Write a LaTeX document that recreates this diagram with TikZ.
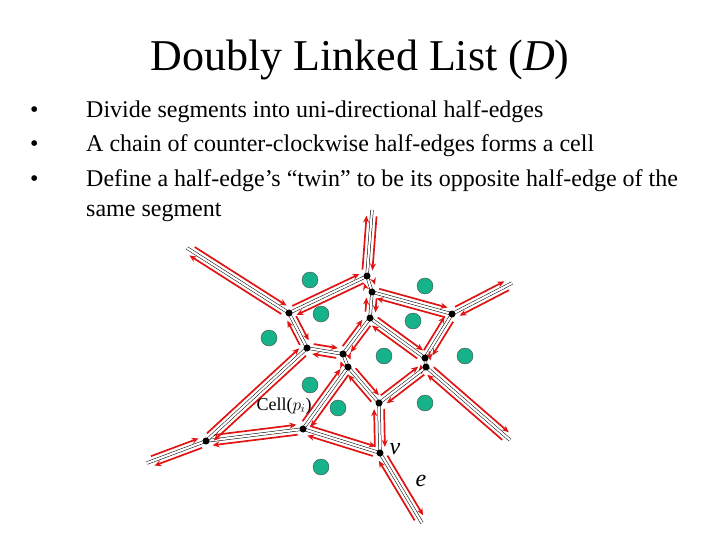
\documentclass[tikz,border=0pt]{standalone}
\usepackage{fontspec}
\setmainfont{Liberation Serif}
\usetikzlibrary{calc,arrows.meta}
\definecolor{sitec}{RGB}{22,178,138}
\definecolor{hred}{RGB}{225,20,20}
\tikzset{
 seg/.style={draw=black,double=white,double distance=2.2pt,line width=0.5pt},
 hedge/.style={draw=hred,line width=1.7pt,-{Stealth[length=7pt,width=6pt]},shorten <=6pt,shorten >=6pt},
 vtx/.style={circle,fill=black,inner sep=0pt,minimum size=7pt},
 site/.style={circle,fill=sitec,draw=black!70,line width=0.4pt,inner sep=0pt,minimum size=16pt},
 bul/.style={anchor=base west,font=\fontsize{24}{28}\selectfont,inner sep=0pt}
}
\newcommand\hepair[2]{%
 \draw[hedge] let \p1=($(#2)-(#1)$), \n1={atan2(\y1,\x1)} in ($(#1)+(\n1+90:5pt)$) -- ($(#2)+(\n1+90:5pt)$);
 \draw[hedge] let \p1=($(#1)-(#2)$), \n1={atan2(\y1,\x1)} in ($(#2)+(\n1+90:5pt)$) -- ($(#1)+(\n1+90:5pt)$);
 \draw[seg] (#1) -- (#2);}
\begin{document}
\begin{tikzpicture}[x=1pt,y=-1pt]
\useasboundingbox (0,0) rectangle (720,540);
\node[font=\fontsize{44}{48}\selectfont] (title) at (360,60) {Doubly Linked List (\textit{D})};
\foreach \y/\t [count=\i] in {118/Divide segments into uni-directional half-edges,152/A chain of counter-clockwise half-edges forms a cell,187/Define a half-edge’s “twin” to be its opposite half-edge of the}{
 \node[bul] (b\i) at (86,\y) {\t};
 \node[bul] (d\i) at (30,\y) {•};}
\node[bul] (b4) at (86,217) {same segment};
% vertices
\coordinate (A) at (367,276); \coordinate (B) at (372,292);
\coordinate (C) at (289,313); \coordinate (D) at (370,318);
\coordinate (E) at (452,314); \coordinate (F) at (307,348);
\coordinate (G) at (343,354); \coordinate (H) at (348,367);
\coordinate (I) at (425,358); \coordinate (J) at (426,367);
\coordinate (K) at (379,403); \coordinate (L) at (303,429);
\coordinate (M) at (206,441); \coordinate (V) at (380,453);
\coordinate (tA) at (372,210); \coordinate (tC) at (187,248);
\coordinate (tE) at (512,283); \coordinate (tJ) at (510,440);
\coordinate (tM) at (147,463); \coordinate (tV) at (422,523);
\foreach \a/\b in {A/tA,A/B,A/C,C/tC,C/F,F/G,G/D,D/B,B/E,E/tE,E/I,I/D,I/J,J/K,K/H,H/G,H/L,L/M,L/V,K/V,V/tV,M/tM,J/tJ,F/M}{\hepair{\a}{\b}}
\foreach \v in {A,B,C,D,E,F,G,H,I,J,K,L,M,V}{\node[vtx] (n\v) at (\v) {};}
\foreach \x/\y [count=\i] in {310/280,321/314,269/338,425/286,413/321,384/356,465/356,310/385,338/408,425/403,321/467}{\node[site] (s\i) at (\x,\y) {};}
\node[font=\fontsize{18}{20}\selectfont,inner sep=0pt] (cell) at (284,406) {Cell($p_i$)};
\node[font=\fontsize{24}{26}\selectfont\itshape,inner sep=0pt] (lv) at (395,449) {v};
\node[font=\fontsize{24}{26}\selectfont\itshape,inner sep=0pt] (le) at (421,481) {e};
\end{tikzpicture}
\end{document}
